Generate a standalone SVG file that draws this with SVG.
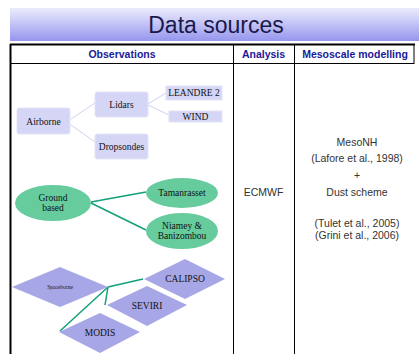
<svg xmlns="http://www.w3.org/2000/svg" width="419" height="354" viewBox="0 0 419 354">
<defs>
<linearGradient id="ban" x1="0" y1="0" x2="0" y2="1">
<stop offset="0" stop-color="#ececfd"/>
<stop offset="1" stop-color="#9696ee"/>
</linearGradient>
<style>
.hdr{font-family:"Liberation Sans",Arial,sans-serif;font-size:10.5px;font-weight:bold;fill:#1a1a9a;text-anchor:middle}
.txt{font-family:"Liberation Sans",Arial,sans-serif;font-size:10.5px;fill:#333;text-anchor:middle}
.ser{font-family:"Liberation Serif","Times New Roman",serif;font-size:9.5px;fill:#111;text-anchor:middle}
.rect{fill:#d5d5f5;stroke:#e4e4f8;stroke-width:1}
.ell{fill:#66cc9e}
.dia{fill:#a7a7e7}
.l1{stroke:#d0d0f2;stroke-width:1;fill:none}
.l2{stroke:#12a07a;stroke-width:1.5;fill:none}
.bd{stroke:#000;fill:none}
</style>
</defs>
<rect width="419" height="354" fill="#fff"/>
<g id="banner">
<rect x="10" y="8" width="409" height="33" fill="url(#ban)"/>
<text x="216" y="33" font-family="'Liberation Sans',Arial,sans-serif" font-size="23" fill="#1a1a4a" text-anchor="middle">Data sources</text>
</g>
<g id="table">
<line class="bd" x1="10" y1="44.5" x2="415" y2="44.5" stroke-width="2"/>
<line class="bd" x1="10" y1="63.5" x2="414" y2="63.5" stroke-width="1"/>
<line class="bd" x1="10.5" y1="44" x2="10.5" y2="354" stroke-width="2"/>
<line class="bd" x1="233.5" y1="44" x2="233.5" y2="354" stroke-width="1"/>
<line class="bd" x1="294.5" y1="44" x2="294.5" y2="354" stroke-width="1"/>
<line class="bd" x1="414" y1="44" x2="414" y2="64" stroke-width="1"/>
<text class="hdr" x="122" y="57.5">Observations</text>
<text class="hdr" x="263.5" y="57.5">Analysis</text>
<text class="hdr" x="355" y="57.5">Mesoscale modelling</text>
<text class="txt" x="263.5" y="195.5">ECMWF</text>
<text class="txt" x="357" y="146">MesoNH</text>
<text class="txt" x="357" y="162">(Lafore et al., 1998)</text>
<text class="txt" x="357" y="178.5">+</text>
<text class="txt" x="357" y="195.5">Dust scheme</text>
<text class="txt" x="357" y="226.5">(Tulet et al., 2005)</text>
<text class="txt" x="357" y="239">(Grini et al., 2006)</text>
</g>
<g id="connectors">
<path class="l1" d="M71 119 L95 103 M71 125 L95 142 M148 104 L166 93 M148 105 L169 115"/>
<path class="l2" d="M91 202 L146 192 M91 203 L146 230"/>
<path class="l2" d="M108 287 L143 279 M108 287 L105 305 M108 287 L60 331"/>
</g>
<g id="airborne"><rect class="rect" x="17" y="108" width="53" height="26" rx="2"/><text class="ser" x="43.5" y="124.5">Airborne</text></g>
<g id="lidars"><rect class="rect" x="95" y="92" width="53" height="25" rx="2"/><text class="ser" x="121.5" y="107.5">Lidars</text></g>
<g id="dropsondes"><rect class="rect" x="95" y="134" width="53" height="25" rx="2"/><text class="ser" x="121.5" y="150">Dropsondes</text></g>
<g id="leandre"><rect class="rect" x="166" y="86" width="56" height="14"/><text class="ser" x="194" y="96">LEANDRE 2</text></g>
<g id="wind"><rect class="rect" x="169" y="111" width="53" height="11"/><text class="ser" x="195.5" y="120">WIND</text></g>
<g id="ground"><ellipse class="ell" cx="53" cy="203" rx="38" ry="18"/><text class="ser" x="53" y="200.5">Ground</text><text class="ser" x="53" y="210.5">based</text></g>
<g id="tamanrasset"><ellipse class="ell" cx="182" cy="193" rx="36" ry="15"/><text class="ser" x="182" y="196">Tamanrasset</text></g>
<g id="niamey"><ellipse class="ell" cx="182" cy="231" rx="36" ry="18"/><text class="ser" x="182" y="228.5">Niamey &amp;</text><text class="ser" x="182" y="238.5">Banizombou</text></g>
<g id="spaceborne"><polygon class="dia" points="12,287 60,267 108,287 60,307"/><text class="ser" x="60" y="289" style="font-size:5.5px">Spaceborne</text></g>
<g id="calipso"><polygon class="dia" points="144,279 185,259 225,279 185,299"/><text class="ser" x="185" y="282">CALIPSO</text></g>
<g id="seviri"><polygon class="dia" points="107,305 147,286 187,305 147,326"/><text class="ser" x="147" y="308.5">SEVIRI</text></g>
<g id="modis"><polygon class="dia" points="59,332 100,313 140,332 100,353"/><text class="ser" x="100" y="335.5">MODIS</text></g>
</svg>
